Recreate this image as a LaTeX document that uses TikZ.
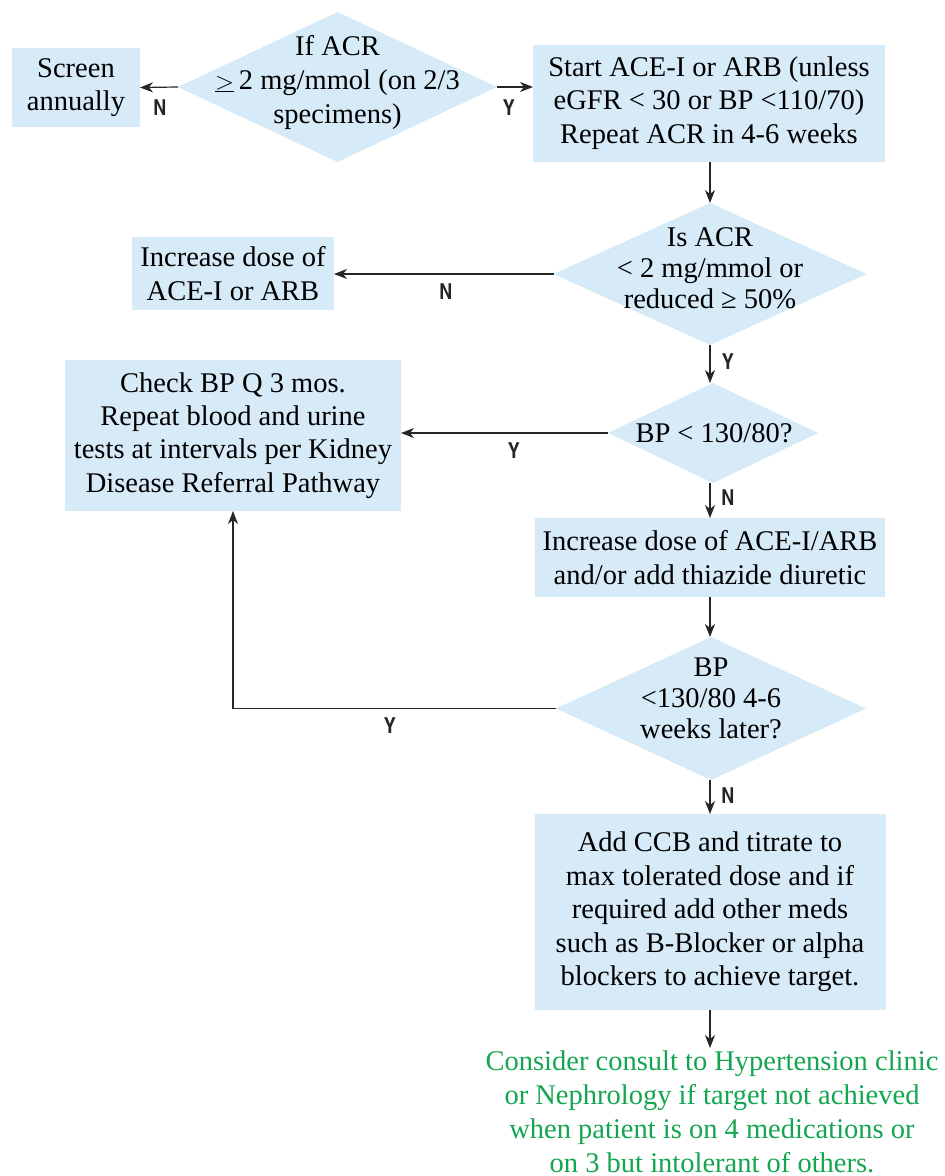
\documentclass[tikz,border=0pt]{standalone}
\usepackage{fontspec}
\setmainfont{Liberation Serif}
\newfontfamily\lblfont{texgyreheroscn-bold.otf}
\usetikzlibrary{shapes.geometric,arrows.meta,calc}
\definecolor{boxblue}{RGB}{214,234,248}
\definecolor{notegreen}{RGB}{20,165,80}
\tikzset{
  box/.style={fill=boxblue, draw=none, inner sep=0pt, outer sep=0pt, align=center,
    font=\fontsize{28.5}{33.5}\selectfont},
  condbox/.style={box, font=\fontsize{28.5}{33.3}\selectfont},
  dia/.style={diamond, fill=boxblue, draw=none, inner sep=0pt, outer sep=0pt, aspect=2},
  txt/.style={align=center, inner sep=0pt, font=\fontsize{28.5}{34}\selectfont},
  condtxt/.style={align=center, inner sep=0pt, font=\fontsize{28.5}{31}\selectfont},
  yn/.style={font=\lblfont\fontsize{22}{22}\selectfont, inner sep=0pt, text=black!85},
  arr/.style={draw=black!85, line width=1.2pt, -{Stealth[length=13pt,width=10pt,inset=4pt]}},
}
\begin{document}
\begin{tikzpicture}[x=1pt,y=-1pt]
\useasboundingbox (0,0) rectangle (945,1176);

% diamonds
\node[dia, minimum width=319pt, minimum height=150pt] (d1) at (337.5,87) {};
\node[txt] (d1t) at (337.5,82) {If ACR\\$\underline{>}$\,2 mg/mmol (on 2/3\\specimens)};
\node[dia, minimum width=313pt, minimum height=142pt] (d2) at (710,274) {};
\node[condtxt] (d2t) at (710,268) {Is ACR\\< 2 mg/mmol or\\reduced ≥ 50\%};
\node[dia, minimum width=210pt, minimum height=100pt] (d3) at (713,433) {};
\node[condtxt] (d3t) at (714,433) {BP < 130/80?};
\node[dia, minimum width=310pt, minimum height=143pt] (d4) at (711,708.5) {};
\node[condtxt] (d4t) at (711,698) {BP\\<130/80 4-6\\weeks later?};

% boxes
\node[box, minimum width=128pt, minimum height=79pt] (screen) at (76,87.5) {Screen\\annually};
\node[box, minimum width=352pt, minimum height=117pt] (start) at (709,103) {Start ACE-I or ARB (unless\\eGFR < 30 or BP <110/70)\\Repeat ACR in 4-6 weeks};
\node[condbox, minimum width=202pt, minimum height=73pt] (inc1) at (233,273.5) {Increase dose of\\ACE-I or ARB};
\node[condbox, minimum width=336pt, minimum height=151pt] (check) at (233,435.5) {Check BP Q 3 mos.\\Repeat blood and urine\\tests at intervals per Kidney\\Disease Referral Pathway};
\node[condbox, minimum width=350pt, minimum height=79pt] (inc2) at (710,557.5) {Increase dose of ACE-I/ARB\\and/or add thiazide diuretic};
\node[box, minimum width=351pt, minimum height=196pt] (ccb) at (710,912) {Add CCB and titrate to\\max tolerated dose and if\\required add other meds\\such as B-Blocker or alpha\\blockers to achieve target.};

% note
\node[txt, text=notegreen, font=\fontsize{28.5}{34}\selectfont] (note) at (712,1112) {Consider consult to Hypertension clinic\\or Nephrology if target not achieved\\when patient is on 4 medications or\\on 3 but intolerant of others.};
\coordinate (noteTop) at (710,1048);

% connectors
\draw[arr] (d1.west) -- (screen.east);
\draw[arr] (d1.east) -- (d1.east -| start.west);
\draw[arr] (start.south -| d2.north) -- (d2.north);
\draw[arr] (d2.west) -- (d2.west -| inc1.east);
\draw[arr] (d2.south) -- (d3.north -| d2.south);
\draw[arr] (d3.west) -- (d3.west -| check.east);
\draw[arr] (d3.south -| inc2.north) -- (inc2.north);
\draw[arr] (inc2.south) -- (inc2.south |- d4.north);
\draw[arr] (d4.west) -| (check.south);
\draw[arr] (d4.south -| ccb.north) -- (ccb.north);
\draw[arr] (ccb.south) -- (noteTop);

% labels
\node[yn] (n1) at (160,108) {N};
\node[yn] (y1) at (509,108) {Y};
\node[yn] (n2) at (446,292) {N};
\node[yn] (y2) at (728,362) {Y};
\node[yn] (y3) at (514,451) {Y};
\node[yn] (n3) at (728,498) {N};
\node[yn] (y4) at (390,726) {Y};
\node[yn] (n4) at (728,796) {N};
\end{tikzpicture}
\end{document}
